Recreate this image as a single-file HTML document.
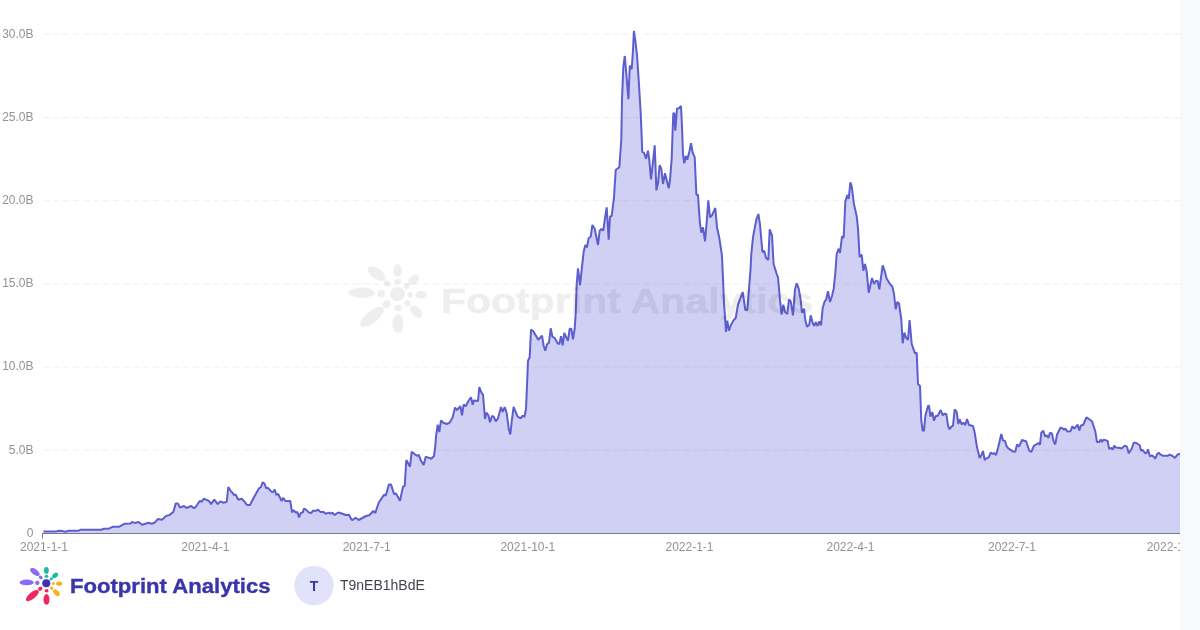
<!DOCTYPE html>
<html><head><meta charset="utf-8"><title>Footprint Analytics</title>
<style>
html,body{margin:0;padding:0;background:#fff;}
body{width:1200px;height:630px;overflow:hidden;position:relative;font-family:"Liberation Sans",sans-serif;}
svg{position:absolute;left:0;top:0;display:block;will-change:transform;}
svg text{font-family:"Liberation Sans",sans-serif;}
</style></head>
<body>
<svg width="1200" height="630" viewBox="0 0 1200 630">
<defs><clipPath id="cl"><rect x="0" y="0" width="1180" height="630"/></clipPath></defs>
<rect x="0" y="0" width="1200" height="630" fill="#ffffff"/>
<g clip-path="url(#cl)">
<g><line x1="43" x2="1180" y1="34.3" y2="34.3" stroke="#f0f0f3" stroke-width="1" stroke-dasharray="6.5 3.5"/>
<line x1="43" x2="1180" y1="117.5" y2="117.5" stroke="#f0f0f3" stroke-width="1" stroke-dasharray="6.5 3.5"/>
<line x1="43" x2="1180" y1="200.7" y2="200.7" stroke="#f0f0f3" stroke-width="1" stroke-dasharray="6.5 3.5"/>
<line x1="43" x2="1180" y1="283.9" y2="283.9" stroke="#f0f0f3" stroke-width="1" stroke-dasharray="6.5 3.5"/>
<line x1="43" x2="1180" y1="367.1" y2="367.1" stroke="#f0f0f3" stroke-width="1" stroke-dasharray="6.5 3.5"/>
<line x1="43" x2="1180" y1="450.3" y2="450.3" stroke="#f0f0f3" stroke-width="1" stroke-dasharray="6.5 3.5"/></g>
<g font-size="12" fill="#939393"><text x="33.5" y="37.6" text-anchor="end">30.0B</text>
<text x="33.5" y="120.8" text-anchor="end">25.0B</text>
<text x="33.5" y="204.0" text-anchor="end">20.0B</text>
<text x="33.5" y="287.2" text-anchor="end">15.0B</text>
<text x="33.5" y="370.4" text-anchor="end">10.0B</text>
<text x="33.5" y="453.6" text-anchor="end">5.0B</text>
<text x="33.5" y="536.8" text-anchor="end">0</text></g>
<path d="M43.5,531.6 L56.0,531.6 L58.7,530.7 L62.0,530.9 L65.3,531.7 L68.7,530.7 L78.7,530.7 L80.7,529.7 L101.3,529.7 L104.0,528.7 L108.7,528.7 L112.7,526.8 L119.3,526.7 L124.7,523.7 L130.7,523.6 L132.0,522.0 L134.7,522.9 L138.7,522.0 L142.0,524.7 L148.7,522.7 L151.3,523.7 L154.7,522.7 L158.0,518.9 L162.0,519.7 L166.0,516.0 L169.3,515.1 L173.3,512.0 L175.7,503.6 L178.0,503.6 L180.0,507.6 L184.0,506.0 L186.4,508.0 L191.3,506.0 L194.0,508.3 L195.5,507.2 L199.7,501.0 L201.7,501.7 L203.7,498.7 L209.0,501.0 L211.0,504.1 L214.3,499.7 L217.7,504.1 L220.3,501.4 L223.7,502.7 L226.7,501.9 L228.3,487.0 L230.3,490.3 L234.3,495.0 L235.7,494.7 L238.3,499.7 L241.7,498.7 L244.3,501.4 L247.0,505.0 L250.0,505.0 L253.7,497.7 L259.0,488.3 L261.0,487.0 L262.6,482.3 L264.3,483.4 L266.3,488.3 L267.7,487.7 L271.7,491.9 L273.4,491.7 L274.7,489.4 L276.3,495.0 L278.0,493.7 L281.7,501.0 L283.3,497.7 L285.4,501.0 L290.3,501.0 L292.0,512.3 L293.7,510.0 L295.7,512.6 L297.4,512.0 L299.0,517.4 L300.7,513.0 L302.7,512.6 L304.0,508.6 L305.7,509.4 L309.0,512.6 L311.3,513.0 L313.0,510.7 L316.3,510.7 L318.0,509.7 L320.3,511.9 L323.7,512.0 L325.7,513.7 L329.0,512.6 L330.3,513.7 L332.3,512.7 L334.6,515.0 L337.7,512.7 L339.7,512.7 L345.7,515.0 L349.0,514.7 L351.3,519.3 L352.7,520.0 L355.6,517.7 L358.7,520.0 L366.0,516.0 L369.3,515.3 L373.3,511.0 L375.3,513.0 L378.7,502.7 L384.0,494.7 L385.7,495.7 L389.0,484.4 L391.0,484.4 L394.0,494.0 L396.0,493.6 L400.0,500.7 L403.0,486.7 L404.7,486.0 L406.3,460.0 L410.0,466.7 L411.7,451.7 L416.7,455.7 L418.7,455.0 L421.3,461.3 L423.7,465.0 L425.7,456.7 L431.3,458.7 L434.0,456.0 L435.2,447.0 L436.0,436.7 L437.7,424.7 L439.3,432.0 L441.0,420.4 L443.3,422.7 L446.7,424.0 L449.6,422.7 L452.7,417.3 L455.0,407.6 L457.0,410.0 L460.4,406.3 L462.0,415.3 L463.7,404.4 L465.7,406.3 L468.4,401.0 L471.0,397.3 L472.7,404.7 L474.0,400.4 L478.0,401.0 L479.3,387.0 L481.6,393.0 L483.0,394.7 L485.0,419.0 L486.4,412.7 L488.4,415.3 L490.0,422.3 L492.0,416.0 L494.0,417.0 L495.7,421.3 L498.0,418.3 L501.0,407.0 L502.7,412.0 L504.7,407.0 L506.7,413.3 L508.7,428.7 L510.3,434.4 L511.7,421.3 L513.6,407.0 L517.6,416.7 L520.7,418.4 L522.4,415.7 L524.4,417.0 L526.0,408.7 L527.0,386.0 L528.0,360.7 L529.7,357.3 L531.0,329.6 L533.3,331.3 L538.3,339.7 L542.0,335.7 L543.7,346.0 L545.3,350.7 L547.0,344.3 L549.0,342.7 L550.7,328.3 L552.4,336.7 L554.7,338.0 L557.7,343.3 L559.3,344.0 L561.0,336.3 L562.7,345.3 L564.3,333.0 L566.0,336.7 L568.0,340.7 L569.7,328.7 L571.3,328.7 L573.0,339.3 L574.7,328.7 L575.7,313.3 L576.7,284.0 L578.0,268.3 L580.0,285.3 L582.0,266.7 L583.7,251.7 L585.3,245.0 L587.0,247.3 L588.7,238.0 L590.7,236.7 L592.4,225.0 L594.7,228.7 L598.0,245.0 L599.7,230.7 L601.3,229.0 L603.3,230.7 L605.0,218.0 L606.7,207.3 L608.7,239.7 L610.0,216.7 L611.7,216.0 L614.0,197.3 L615.7,170.0 L619.3,167.3 L621.3,140.0 L622.0,100.0 L623.3,67.0 L624.8,56.0 L626.5,76.0 L628.4,99.3 L629.8,65.7 L631.7,69.3 L633.0,50.0 L633.9,31.0 L635.5,42.0 L637.0,55.0 L638.7,80.0 L640.7,113.3 L642.3,152.0 L644.0,152.7 L646.0,158.7 L648.0,150.7 L649.3,160.0 L651.0,179.3 L652.7,164.7 L654.7,145.3 L656.4,190.4 L658.0,183.3 L659.6,165.3 L661.3,168.7 L663.0,184.0 L665.0,173.3 L668.7,188.3 L670.0,180.0 L671.7,158.7 L672.5,135.0 L673.3,113.3 L674.3,113.3 L675.3,130.7 L677.0,108.7 L679.3,108.0 L681.0,106.0 L682.0,126.7 L683.0,154.7 L684.3,163.3 L685.7,156.0 L687.3,159.7 L689.3,152.0 L691.0,143.3 L692.7,152.7 L694.7,157.3 L696.4,194.7 L698.0,194.7 L699.3,214.7 L700.0,223.3 L701.3,232.7 L703.0,227.3 L705.0,241.3 L706.7,222.0 L708.3,200.4 L710.0,217.3 L712.0,215.3 L715.3,208.0 L717.0,227.3 L719.3,238.0 L722.0,256.0 L724.0,302.7 L726.0,332.0 L727.3,320.7 L729.0,330.7 L731.0,324.7 L733.3,320.7 L735.7,318.0 L738.0,304.7 L742.7,292.0 L745.3,310.0 L747.3,310.0 L749.0,288.7 L750.5,270.0 L751.3,254.0 L753.0,237.3 L756.4,219.3 L758.4,214.0 L760.0,224.7 L762.4,252.0 L764.3,251.0 L766.0,258.0 L768.3,260.0 L769.7,229.3 L772.0,235.3 L773.6,264.0 L776.7,274.0 L778.0,277.3 L780.0,300.0 L781.6,314.7 L783.3,304.7 L785.0,312.0 L787.3,314.0 L789.0,299.3 L790.7,301.3 L793.0,315.3 L795.0,289.3 L796.7,283.3 L798.7,288.7 L800.7,300.0 L802.0,312.7 L804.0,308.7 L805.3,320.0 L807.0,326.7 L809.3,324.7 L810.7,315.3 L813.0,324.0 L814.4,326.0 L815.7,322.0 L817.6,326.0 L819.3,321.3 L821.0,325.3 L822.7,308.0 L824.7,301.3 L826.0,300.0 L828.0,291.3 L830.0,302.0 L832.0,296.0 L833.7,288.7 L835.3,273.3 L836.7,254.0 L838.7,248.7 L840.0,253.0 L842.0,236.3 L843.7,237.7 L845.3,201.7 L847.3,195.0 L848.7,199.0 L850.4,182.3 L851.7,186.3 L854.0,204.3 L856.7,216.3 L858.0,228.3 L859.6,257.0 L861.7,254.7 L863.3,270.7 L865.0,264.0 L866.7,271.3 L868.7,292.7 L872.0,278.0 L874.0,284.0 L876.0,280.7 L877.7,281.3 L879.3,289.3 L882.7,265.3 L884.4,270.0 L886.7,278.7 L890.0,284.0 L892.4,286.7 L894.0,294.0 L895.7,309.3 L897.3,302.0 L899.0,303.3 L901.3,319.3 L902.7,343.3 L904.4,332.7 L906.0,337.3 L908.0,340.0 L909.6,320.0 L911.7,344.0 L915.0,353.3 L916.7,352.7 L918.0,384.0 L920.0,386.0 L921.3,420.7 L922.7,430.7 L924.0,430.7 L925.3,416.0 L928.0,406.0 L929.0,405.7 L930.4,416.7 L932.3,412.0 L934.0,420.7 L935.7,416.0 L937.6,416.0 L940.7,410.0 L942.7,415.3 L944.3,413.7 L946.3,414.0 L948.0,425.3 L949.6,429.3 L951.3,426.7 L953.0,425.7 L954.7,409.3 L956.7,412.0 L958.3,424.0 L959.7,419.3 L961.6,424.4 L963.3,422.7 L965.3,425.0 L967.0,419.0 L969.0,425.0 L973.0,426.0 L974.7,432.7 L977.0,447.3 L979.7,458.0 L981.6,454.7 L983.0,451.0 L984.7,460.0 L986.4,458.3 L988.7,457.3 L990.7,452.7 L992.7,454.0 L994.0,453.0 L996.0,455.0 L998.0,448.0 L1001.3,434.0 L1003.0,440.4 L1005.0,441.0 L1006.7,446.3 L1008.3,448.3 L1013.3,451.6 L1015.3,451.7 L1017.0,444.4 L1019.0,446.7 L1022.0,440.0 L1024.7,441.0 L1026.0,441.0 L1029.3,450.7 L1031.3,452.0 L1034.0,445.7 L1036.0,444.7 L1038.4,443.0 L1040.0,444.7 L1041.3,432.7 L1043.3,430.7 L1045.0,436.4 L1046.7,435.3 L1048.4,438.0 L1050.0,432.7 L1052.0,433.7 L1053.6,441.3 L1055.3,444.4 L1057.0,434.7 L1060.4,427.7 L1062.0,428.0 L1064.0,429.6 L1065.6,428.7 L1067.3,431.6 L1070.4,431.3 L1072.4,426.3 L1074.4,428.7 L1077.7,424.7 L1079.3,430.4 L1081.0,425.3 L1083.0,425.3 L1086.4,417.3 L1092.0,421.3 L1095.3,431.3 L1097.0,442.0 L1099.3,442.0 L1100.7,439.6 L1102.0,442.0 L1103.7,439.6 L1107.7,441.0 L1109.0,448.7 L1111.3,448.0 L1112.7,449.7 L1114.3,445.7 L1116.0,447.6 L1120.0,448.0 L1121.3,448.7 L1124.7,445.7 L1127.0,446.7 L1128.7,453.3 L1131.7,448.7 L1133.7,442.7 L1136.0,442.7 L1139.7,445.3 L1141.0,450.7 L1142.7,450.0 L1145.3,453.3 L1146.7,453.0 L1148.0,449.3 L1150.0,456.4 L1152.0,455.3 L1153.6,456.7 L1155.3,458.7 L1157.0,454.3 L1158.7,452.7 L1160.7,454.7 L1162.7,455.7 L1168.0,455.7 L1169.6,454.7 L1172.7,456.0 L1175.0,458.0 L1177.3,454.7 L1180.0,453.7 L1183.0,453.0 L1183.0,533.5 L43.5,533.5 Z" fill="#6262de" fill-opacity="0.3"/>
<path d="M43.5,531.6 L56.0,531.6 L58.7,530.7 L62.0,530.9 L65.3,531.7 L68.7,530.7 L78.7,530.7 L80.7,529.7 L101.3,529.7 L104.0,528.7 L108.7,528.7 L112.7,526.8 L119.3,526.7 L124.7,523.7 L130.7,523.6 L132.0,522.0 L134.7,522.9 L138.7,522.0 L142.0,524.7 L148.7,522.7 L151.3,523.7 L154.7,522.7 L158.0,518.9 L162.0,519.7 L166.0,516.0 L169.3,515.1 L173.3,512.0 L175.7,503.6 L178.0,503.6 L180.0,507.6 L184.0,506.0 L186.4,508.0 L191.3,506.0 L194.0,508.3 L195.5,507.2 L199.7,501.0 L201.7,501.7 L203.7,498.7 L209.0,501.0 L211.0,504.1 L214.3,499.7 L217.7,504.1 L220.3,501.4 L223.7,502.7 L226.7,501.9 L228.3,487.0 L230.3,490.3 L234.3,495.0 L235.7,494.7 L238.3,499.7 L241.7,498.7 L244.3,501.4 L247.0,505.0 L250.0,505.0 L253.7,497.7 L259.0,488.3 L261.0,487.0 L262.6,482.3 L264.3,483.4 L266.3,488.3 L267.7,487.7 L271.7,491.9 L273.4,491.7 L274.7,489.4 L276.3,495.0 L278.0,493.7 L281.7,501.0 L283.3,497.7 L285.4,501.0 L290.3,501.0 L292.0,512.3 L293.7,510.0 L295.7,512.6 L297.4,512.0 L299.0,517.4 L300.7,513.0 L302.7,512.6 L304.0,508.6 L305.7,509.4 L309.0,512.6 L311.3,513.0 L313.0,510.7 L316.3,510.7 L318.0,509.7 L320.3,511.9 L323.7,512.0 L325.7,513.7 L329.0,512.6 L330.3,513.7 L332.3,512.7 L334.6,515.0 L337.7,512.7 L339.7,512.7 L345.7,515.0 L349.0,514.7 L351.3,519.3 L352.7,520.0 L355.6,517.7 L358.7,520.0 L366.0,516.0 L369.3,515.3 L373.3,511.0 L375.3,513.0 L378.7,502.7 L384.0,494.7 L385.7,495.7 L389.0,484.4 L391.0,484.4 L394.0,494.0 L396.0,493.6 L400.0,500.7 L403.0,486.7 L404.7,486.0 L406.3,460.0 L410.0,466.7 L411.7,451.7 L416.7,455.7 L418.7,455.0 L421.3,461.3 L423.7,465.0 L425.7,456.7 L431.3,458.7 L434.0,456.0 L435.2,447.0 L436.0,436.7 L437.7,424.7 L439.3,432.0 L441.0,420.4 L443.3,422.7 L446.7,424.0 L449.6,422.7 L452.7,417.3 L455.0,407.6 L457.0,410.0 L460.4,406.3 L462.0,415.3 L463.7,404.4 L465.7,406.3 L468.4,401.0 L471.0,397.3 L472.7,404.7 L474.0,400.4 L478.0,401.0 L479.3,387.0 L481.6,393.0 L483.0,394.7 L485.0,419.0 L486.4,412.7 L488.4,415.3 L490.0,422.3 L492.0,416.0 L494.0,417.0 L495.7,421.3 L498.0,418.3 L501.0,407.0 L502.7,412.0 L504.7,407.0 L506.7,413.3 L508.7,428.7 L510.3,434.4 L511.7,421.3 L513.6,407.0 L517.6,416.7 L520.7,418.4 L522.4,415.7 L524.4,417.0 L526.0,408.7 L527.0,386.0 L528.0,360.7 L529.7,357.3 L531.0,329.6 L533.3,331.3 L538.3,339.7 L542.0,335.7 L543.7,346.0 L545.3,350.7 L547.0,344.3 L549.0,342.7 L550.7,328.3 L552.4,336.7 L554.7,338.0 L557.7,343.3 L559.3,344.0 L561.0,336.3 L562.7,345.3 L564.3,333.0 L566.0,336.7 L568.0,340.7 L569.7,328.7 L571.3,328.7 L573.0,339.3 L574.7,328.7 L575.7,313.3 L576.7,284.0 L578.0,268.3 L580.0,285.3 L582.0,266.7 L583.7,251.7 L585.3,245.0 L587.0,247.3 L588.7,238.0 L590.7,236.7 L592.4,225.0 L594.7,228.7 L598.0,245.0 L599.7,230.7 L601.3,229.0 L603.3,230.7 L605.0,218.0 L606.7,207.3 L608.7,239.7 L610.0,216.7 L611.7,216.0 L614.0,197.3 L615.7,170.0 L619.3,167.3 L621.3,140.0 L622.0,100.0 L623.3,67.0 L624.8,56.0 L626.5,76.0 L628.4,99.3 L629.8,65.7 L631.7,69.3 L633.0,50.0 L633.9,31.0 L635.5,42.0 L637.0,55.0 L638.7,80.0 L640.7,113.3 L642.3,152.0 L644.0,152.7 L646.0,158.7 L648.0,150.7 L649.3,160.0 L651.0,179.3 L652.7,164.7 L654.7,145.3 L656.4,190.4 L658.0,183.3 L659.6,165.3 L661.3,168.7 L663.0,184.0 L665.0,173.3 L668.7,188.3 L670.0,180.0 L671.7,158.7 L672.5,135.0 L673.3,113.3 L674.3,113.3 L675.3,130.7 L677.0,108.7 L679.3,108.0 L681.0,106.0 L682.0,126.7 L683.0,154.7 L684.3,163.3 L685.7,156.0 L687.3,159.7 L689.3,152.0 L691.0,143.3 L692.7,152.7 L694.7,157.3 L696.4,194.7 L698.0,194.7 L699.3,214.7 L700.0,223.3 L701.3,232.7 L703.0,227.3 L705.0,241.3 L706.7,222.0 L708.3,200.4 L710.0,217.3 L712.0,215.3 L715.3,208.0 L717.0,227.3 L719.3,238.0 L722.0,256.0 L724.0,302.7 L726.0,332.0 L727.3,320.7 L729.0,330.7 L731.0,324.7 L733.3,320.7 L735.7,318.0 L738.0,304.7 L742.7,292.0 L745.3,310.0 L747.3,310.0 L749.0,288.7 L750.5,270.0 L751.3,254.0 L753.0,237.3 L756.4,219.3 L758.4,214.0 L760.0,224.7 L762.4,252.0 L764.3,251.0 L766.0,258.0 L768.3,260.0 L769.7,229.3 L772.0,235.3 L773.6,264.0 L776.7,274.0 L778.0,277.3 L780.0,300.0 L781.6,314.7 L783.3,304.7 L785.0,312.0 L787.3,314.0 L789.0,299.3 L790.7,301.3 L793.0,315.3 L795.0,289.3 L796.7,283.3 L798.7,288.7 L800.7,300.0 L802.0,312.7 L804.0,308.7 L805.3,320.0 L807.0,326.7 L809.3,324.7 L810.7,315.3 L813.0,324.0 L814.4,326.0 L815.7,322.0 L817.6,326.0 L819.3,321.3 L821.0,325.3 L822.7,308.0 L824.7,301.3 L826.0,300.0 L828.0,291.3 L830.0,302.0 L832.0,296.0 L833.7,288.7 L835.3,273.3 L836.7,254.0 L838.7,248.7 L840.0,253.0 L842.0,236.3 L843.7,237.7 L845.3,201.7 L847.3,195.0 L848.7,199.0 L850.4,182.3 L851.7,186.3 L854.0,204.3 L856.7,216.3 L858.0,228.3 L859.6,257.0 L861.7,254.7 L863.3,270.7 L865.0,264.0 L866.7,271.3 L868.7,292.7 L872.0,278.0 L874.0,284.0 L876.0,280.7 L877.7,281.3 L879.3,289.3 L882.7,265.3 L884.4,270.0 L886.7,278.7 L890.0,284.0 L892.4,286.7 L894.0,294.0 L895.7,309.3 L897.3,302.0 L899.0,303.3 L901.3,319.3 L902.7,343.3 L904.4,332.7 L906.0,337.3 L908.0,340.0 L909.6,320.0 L911.7,344.0 L915.0,353.3 L916.7,352.7 L918.0,384.0 L920.0,386.0 L921.3,420.7 L922.7,430.7 L924.0,430.7 L925.3,416.0 L928.0,406.0 L929.0,405.7 L930.4,416.7 L932.3,412.0 L934.0,420.7 L935.7,416.0 L937.6,416.0 L940.7,410.0 L942.7,415.3 L944.3,413.7 L946.3,414.0 L948.0,425.3 L949.6,429.3 L951.3,426.7 L953.0,425.7 L954.7,409.3 L956.7,412.0 L958.3,424.0 L959.7,419.3 L961.6,424.4 L963.3,422.7 L965.3,425.0 L967.0,419.0 L969.0,425.0 L973.0,426.0 L974.7,432.7 L977.0,447.3 L979.7,458.0 L981.6,454.7 L983.0,451.0 L984.7,460.0 L986.4,458.3 L988.7,457.3 L990.7,452.7 L992.7,454.0 L994.0,453.0 L996.0,455.0 L998.0,448.0 L1001.3,434.0 L1003.0,440.4 L1005.0,441.0 L1006.7,446.3 L1008.3,448.3 L1013.3,451.6 L1015.3,451.7 L1017.0,444.4 L1019.0,446.7 L1022.0,440.0 L1024.7,441.0 L1026.0,441.0 L1029.3,450.7 L1031.3,452.0 L1034.0,445.7 L1036.0,444.7 L1038.4,443.0 L1040.0,444.7 L1041.3,432.7 L1043.3,430.7 L1045.0,436.4 L1046.7,435.3 L1048.4,438.0 L1050.0,432.7 L1052.0,433.7 L1053.6,441.3 L1055.3,444.4 L1057.0,434.7 L1060.4,427.7 L1062.0,428.0 L1064.0,429.6 L1065.6,428.7 L1067.3,431.6 L1070.4,431.3 L1072.4,426.3 L1074.4,428.7 L1077.7,424.7 L1079.3,430.4 L1081.0,425.3 L1083.0,425.3 L1086.4,417.3 L1092.0,421.3 L1095.3,431.3 L1097.0,442.0 L1099.3,442.0 L1100.7,439.6 L1102.0,442.0 L1103.7,439.6 L1107.7,441.0 L1109.0,448.7 L1111.3,448.0 L1112.7,449.7 L1114.3,445.7 L1116.0,447.6 L1120.0,448.0 L1121.3,448.7 L1124.7,445.7 L1127.0,446.7 L1128.7,453.3 L1131.7,448.7 L1133.7,442.7 L1136.0,442.7 L1139.7,445.3 L1141.0,450.7 L1142.7,450.0 L1145.3,453.3 L1146.7,453.0 L1148.0,449.3 L1150.0,456.4 L1152.0,455.3 L1153.6,456.7 L1155.3,458.7 L1157.0,454.3 L1158.7,452.7 L1160.7,454.7 L1162.7,455.7 L1168.0,455.7 L1169.6,454.7 L1172.7,456.0 L1175.0,458.0 L1177.3,454.7 L1180.0,453.7 L1183.0,453.0" fill="none" stroke="#5d5ecd" stroke-width="2" stroke-linejoin="bevel" stroke-linecap="butt"/>
<g opacity="0.068">
<g transform="translate(397.5 294.2) scale(1.83)"><circle cx="0" cy="0" r="4" fill="#000000"/>
<ellipse cx="-19.6" cy="-0.9" rx="7.2" ry="2.8" fill="#000000"/>
<rect x="-11" y="-2.6" width="4" height="4.2" rx="1.6" fill="#000000"/>
<ellipse cx="-11.4" cy="-11.3" rx="5.6" ry="2.8" transform="rotate(36 -11.4 -11.3)" fill="#000000"/>
<ellipse cx="-5.6" cy="-5.9" rx="2.1" ry="1.6" transform="rotate(36 -5.6 -5.9)" fill="#000000"/>
<ellipse cx="0.1" cy="-12.9" rx="2.4" ry="3.4" fill="#000000"/>
<ellipse cx="0.1" cy="-7" rx="1.9" ry="1.5" fill="#000000"/>
<ellipse cx="8.8" cy="-7.9" rx="3.3" ry="2.3" transform="rotate(-40 8.8 -7.9)" fill="#000000"/>
<ellipse cx="5" cy="-4.5" rx="1.8" ry="1.4" transform="rotate(-40 5 -4.5)" fill="#000000"/>
<ellipse cx="12.8" cy="0.4" rx="3.1" ry="2.1" fill="#000000"/>
<circle cx="7" cy="0.3" r="1.5" fill="#000000"/>
<ellipse cx="10.2" cy="9.5" rx="4" ry="2.4" transform="rotate(45 10.2 9.5)" fill="#000000"/>
<ellipse cx="5.4" cy="4.9" rx="1.9" ry="1.5" transform="rotate(45 5.4 4.9)" fill="#000000"/>
<ellipse cx="0.2" cy="16.1" rx="3" ry="5.3" fill="#000000"/>
<ellipse cx="0.3" cy="7.5" rx="2" ry="1.8" fill="#000000"/>
<ellipse cx="-13.9" cy="12.3" rx="7.9" ry="3.2" transform="rotate(-39 -13.9 12.3)" fill="#000000"/>
<ellipse cx="-6" cy="5.4" rx="2.3" ry="2" transform="rotate(-39 -6 5.4)" fill="#000000"/></g>
<text x="441" y="312.5" font-size="35.3" font-weight="bold" fill="#000" stroke="#000" stroke-width="0.6" textLength="372" lengthAdjust="spacingAndGlyphs">Footprint Analytics</text>
</g>
<line x1="42" x2="1180" y1="533.5" y2="533.5" stroke="#767890" stroke-width="1"/>
<line x1="42.5" x2="42.5" y1="533" y2="538.5" stroke="#767890" stroke-width="1"/>
<g font-size="12" fill="#939393"><text x="44" y="551" text-anchor="middle">2021-1-1</text>
<text x="205.3" y="551" text-anchor="middle">2021-4-1</text>
<text x="366.7" y="551" text-anchor="middle">2021-7-1</text>
<text x="527.8" y="551" text-anchor="middle">2021-10-1</text>
<text x="689.5" y="551" text-anchor="middle">2022-1-1</text>
<text x="850.5" y="551" text-anchor="middle">2022-4-1</text>
<text x="1012" y="551" text-anchor="middle">2022-7-1</text>
<text x="1174" y="551" text-anchor="middle">2022-10-1</text></g>
</g>
<rect x="1180" y="0" width="20" height="630" fill="#f8f9fc"/>
<g transform="translate(46.3 583.3)"><circle cx="0" cy="0" r="4" fill="#3c2fb4"/>
<ellipse cx="-19.6" cy="-0.9" rx="7.2" ry="2.8" fill="#8a6cf2"/>
<rect x="-11" y="-2.6" width="4" height="4.2" rx="1.6" fill="#8a6cf2"/>
<ellipse cx="-11.4" cy="-11.3" rx="5.6" ry="2.8" transform="rotate(36 -11.4 -11.3)" fill="#8a6cf2"/>
<ellipse cx="-5.6" cy="-5.9" rx="2.1" ry="1.6" transform="rotate(36 -5.6 -5.9)" fill="#8a6cf2"/>
<ellipse cx="0.1" cy="-12.9" rx="2.4" ry="3.4" fill="#1dba9b"/>
<ellipse cx="0.1" cy="-7" rx="1.9" ry="1.5" fill="#1dba9b"/>
<ellipse cx="8.8" cy="-7.9" rx="3.3" ry="2.3" transform="rotate(-40 8.8 -7.9)" fill="#1dba9b"/>
<ellipse cx="5" cy="-4.5" rx="1.8" ry="1.4" transform="rotate(-40 5 -4.5)" fill="#1dba9b"/>
<ellipse cx="12.8" cy="0.4" rx="3.1" ry="2.1" fill="#f7b21f"/>
<circle cx="7" cy="0.3" r="1.5" fill="#f7b21f"/>
<ellipse cx="10.2" cy="9.5" rx="4" ry="2.4" transform="rotate(45 10.2 9.5)" fill="#f7b21f"/>
<ellipse cx="5.4" cy="4.9" rx="1.9" ry="1.5" transform="rotate(45 5.4 4.9)" fill="#f7b21f"/>
<ellipse cx="0.2" cy="16.1" rx="3" ry="5.3" fill="#f1255f"/>
<ellipse cx="0.3" cy="7.5" rx="2" ry="1.8" fill="#f1255f"/>
<ellipse cx="-13.9" cy="12.3" rx="7.9" ry="3.2" transform="rotate(-39 -13.9 12.3)" fill="#f1255f"/>
<ellipse cx="-6" cy="5.4" rx="2.3" ry="2" transform="rotate(-39 -6 5.4)" fill="#f1255f"/></g>
<text x="70" y="593" font-size="19.5" font-weight="bold" fill="#3a35a8" stroke="#3a35a8" stroke-width="0.35" textLength="200.5" lengthAdjust="spacingAndGlyphs">Footprint Analytics</text>
<circle cx="314" cy="585.5" r="19.7" fill="#e3e2fb"/>
<text x="314" y="590.5" font-size="14" font-weight="bold" fill="#3a35a8" text-anchor="middle">T</text>
<text x="340" y="590" font-size="14" fill="#42444f">T9nEB1hBdE</text>
</svg>
</body></html>
